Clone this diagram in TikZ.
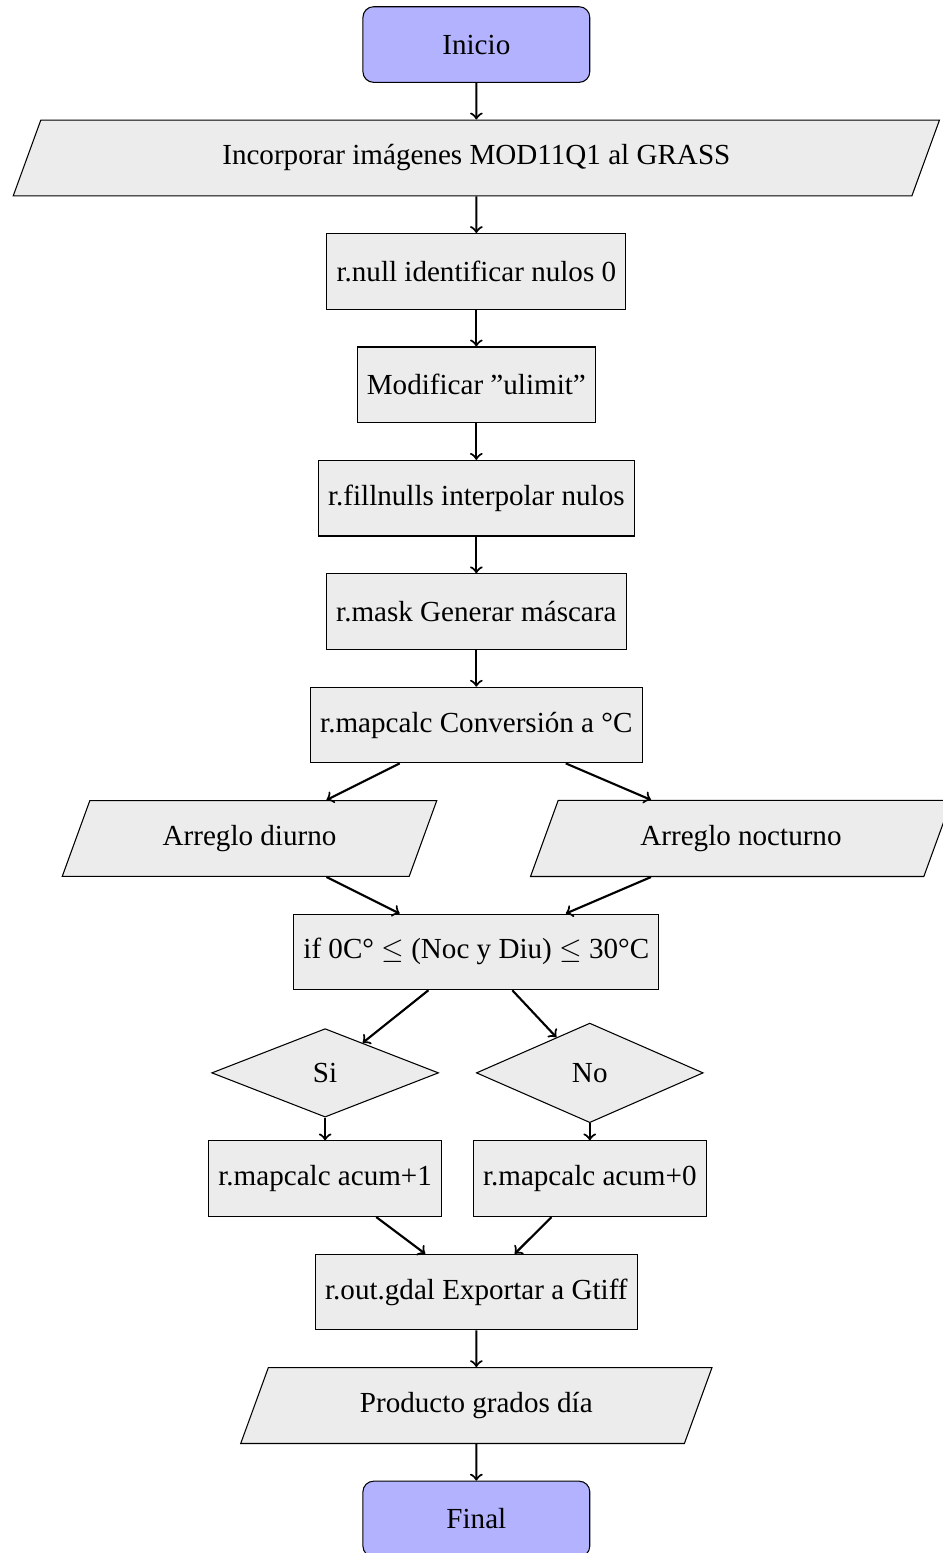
\documentclass[11pt,tikz,border=0pt]{standalone}
\usepackage{fontspec}
\setmainfont{Liberation Serif}
\usetikzlibrary{arrows,shapes}
\tikzstyle{startstop}=[rectangle,rounded corners,minimum width=3cm,minimum height=1cm,draw=black,fill=blue!30]
\tikzstyle{process}=[rectangle,minimum height=1cm,draw=black,fill=gray!15]
\tikzstyle{io}=[trapezium,trapezium left angle=70,trapezium right angle=110,minimum height=1cm,draw=black,fill=gray!15]
\tikzstyle{decision}=[diamond,minimum width=3cm,inner sep=4.2pt,draw=black,fill=gray!15]
\tikzstyle{edge} = [draw,thick,->]

\begin{document}
\begin{tikzpicture}

    \useasboundingbox (-6.30,0.589) rectangle (6.17,-19.95);

    \foreach \x/\y/\name/\txt in {0/0/inicio/Inicio, 0/-19.5/final/Final}
        \node[startstop] (\name) at (\x,\y) {\txt};

    \foreach \x/\y/\name/\w/\txt in {0/-1.5/incorp/12.29cm/{Incorporar imágenes MOD11Q1 al GRASS},
                                     -3/-10.5/diurno/4.96cm/{Arreglo diurno},
                                     3.5/-10.5/nocturno/5.57cm/{Arreglo nocturno},
                                     0/-18/producto/6.24cm/{Producto grados día}}
        \node[io, minimum width=\w] (\name) at (\x,\y) {\txt};

    \foreach \x/\y/\name/\txt in {0/-3/rnull/{r.null identificar nulos 0},
                                  0/-4.5/ulimit/{Modificar ”ulimit”},
                                  0/-6/fillnulls/{r.fillnulls interpolar nulos},
                                  0/-7.5/mask/{r.mask Generar máscara},
                                  0/-9/conv/{r.mapcalc Conversión a °C},
                                  0/-12/cond/{if 0C° $\leq$ (Noc y Diu) $\leq$ 30°C},
                                  -2/-15/acumuno/{r.mapcalc acum+1},
                                  1.5/-15/acumcero/{r.mapcalc acum+0},
                                  0/-16.5/gdal/{r.out.gdal Exportar a Gtiff}}
        \node[process] (\name) at (\x,\y) {\txt};

    \foreach \x/\y/\name/\txt in {-2/-13.6/si/Si, 1.5/-13.6/no/No}
        \node[decision] (\name) at (\x,\y) {\txt};

    % flechas
    \foreach \source/ \dest in {inicio/incorp, incorp/rnull, rnull/ulimit, ulimit/fillnulls,
                                fillnulls/mask, mask/conv, conv/diurno, conv/nocturno,
                                diurno/cond, nocturno/cond, cond/si, cond/no,
                                si/acumuno, no/acumcero, acumuno/gdal, acumcero/gdal,
                                gdal/producto, producto/final}
        \path[edge] (\source) -- (\dest);

\end{tikzpicture}
\end{document}
